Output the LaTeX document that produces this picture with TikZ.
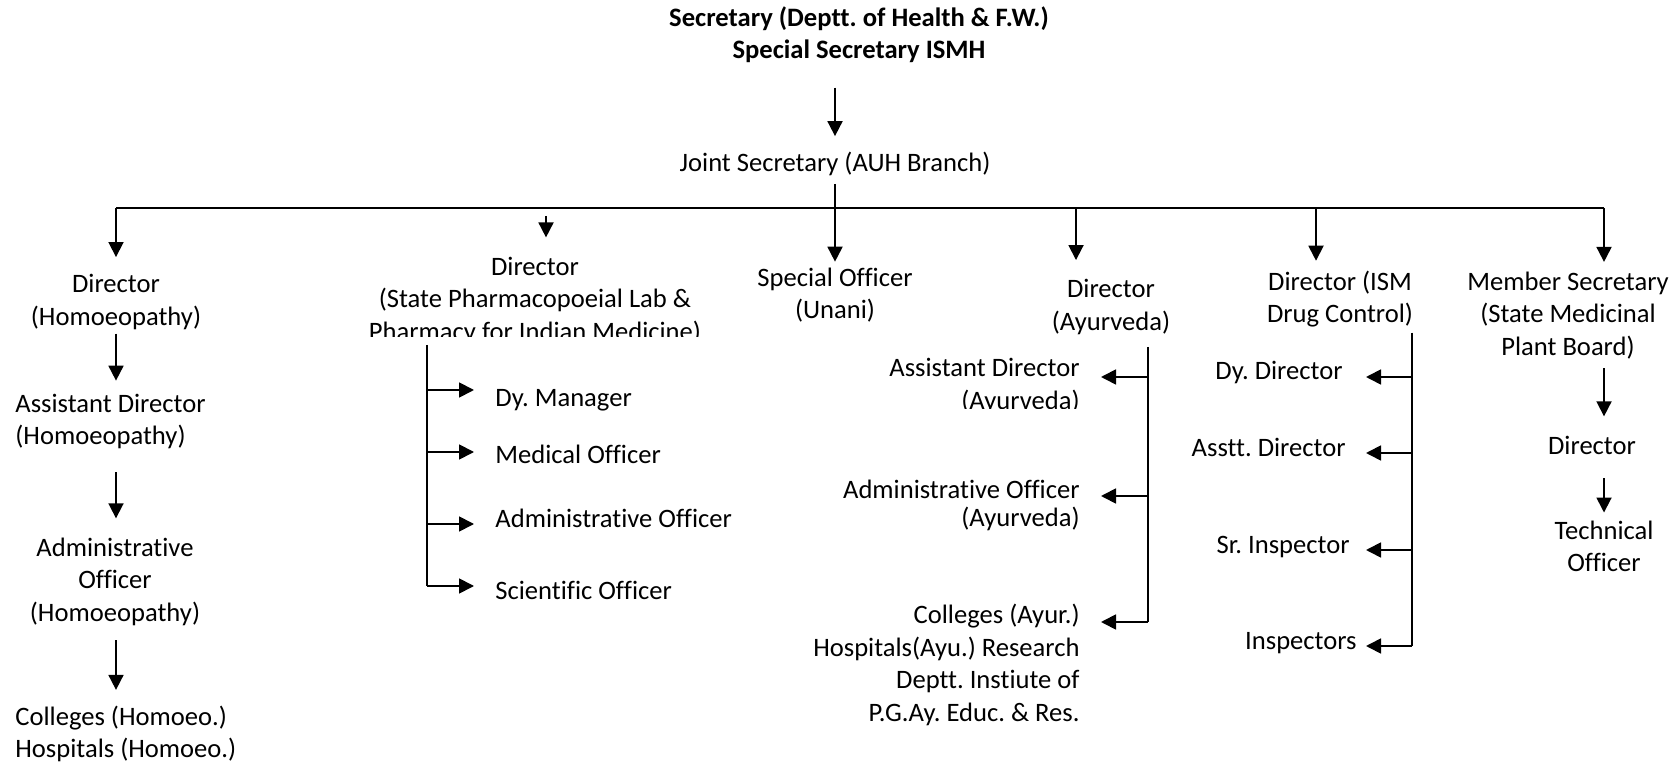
\documentclass[tikz,border=0pt]{standalone}
\usepackage{fontspec}
\setmainfont{Carlito}[Ligatures=NoCommon]
\usepackage{tikz}
\usetikzlibrary{arrows.meta}
\frenchspacing

\begin{document}
\begin{tikzpicture}[x=0.5pt,y=0.5pt,yscale=-1,xscale=1,
  every node/.style={font=\fontsize{13.3}{16.25}\selectfont,inner sep=0pt},
  ln/.style={line width=0.9pt},
  arr/.style={line width=0.9pt,-{Triangle[length=7.5pt,width=7.5pt]}}]
\useasboundingbox (0,0) rectangle (1679,763);

% Text Node
\node (sec) at (859,34.5) [align=center,font=\fontsize{13.3}{16.25}\selectfont\bfseries] {Secretary (Deptt. of Health \& F.W.)\\Special Secretary ISMH};
% Text Node
\node (joint) at (835,164) {Joint Secretary (AUH Branch)};

% Text Node
\node (dirhom) at (116,302) [align=center] {Director\\(Homoeopathy)};
% Text Node
\node (asstdirhom) at (15,421.6) [anchor=west,align=left] {Assistant Director\\(Homoeopathy)};
% Text Node
\node (admhom) at (115,581.6) [align=center] {Administrative\\Officer\\(Homoeopathy)};
% Text Node
\node (colhom) at (15,734) [anchor=west,align=left] {Colleges (Homoeo.)\\Hospitals (Homoeo.)};

% Text Node
\begin{scope}
\clip (350,240) rectangle (720,337);
\node (dirpharm) at (535,300.6) [align=center] {Director\\(State Pharmacopoeial Lab \&\\Pharmacy for Indian Medicine)};
\end{scope}
% Text Node
\node (dyman) at (495,400) [anchor=west] {Dy. Manager};
% Text Node
\node (medoff) at (495,454) [anchor=west] {Medical Officer};
% Text Node
\node (admoff) at (495,518) [anchor=west] {Administrative Officer};
% Text Node
\node (scioff) at (495,590) [anchor=west] {Scientific Officer};

% Text Node
\node (spoff) at (835,295) [align=center] {Special Officer\\(Unani)};

% Text Node
\node (dirayu) at (1111,307) [align=center] {Director\\(Ayurveda)};
% Text Node
\begin{scope}
\clip (880,340) rectangle (1090,409);
\node (asdayu) at (1080,386) [anchor=east,align=right] {Assistant Director\\(Ayurveda)};
\end{scope}
% Text Node
\node (admayu) at (1080,505) [anchor=east,align=right,font=\fontsize{13.3}{14}\selectfont] {Administrative Officer\\(Ayurveda)};
% Text Node
\node (colayu) at (1080,665) [anchor=east,align=right] {Colleges (Ayur.)\\Hospitals(Ayu.) Research\\Deptt. Instiute of\\P.G.Ay. Educ. \& Res.};

% Text Node
\node (dirism) at (1340,299) [align=center] {Director (ISM\\Drug Control)};
% Text Node
\node (ddir) at (1343,372) [anchor=east] {Dy. Director};
% Text Node
\node (asdir) at (1346,447) [anchor=east] {Asstt. Director};
% Text Node
\node (srins) at (1350,547) [anchor=east] {Sr. Inspector};
% Text Node
\node (insp) at (1357,643) [anchor=east] {Inspectors};

% Text Node
\node (ms) at (1568,315.5) [align=center] {Member Secretary\\(State Medicinal\\Plant Board)};
% Text Node
\node (msdir) at (1592,445) {Director};
% Text Node
\node (tech) at (1604,546.5) [align=center] {Technical\\Officer};

%Junctions
\coordinate (busL) at (116,208);
\coordinate (busR) at (1604,208);
\coordinate (busJ) at (835,208);
\coordinate (busAy) at (1076,208);
\coordinate (busIsm) at (1316,208);
\coordinate (pharmdrop) at (546,216);
\coordinate (p1) at (427,390);
\coordinate (p2) at (427,452);
\coordinate (p3) at (427,524);
\coordinate (p4) at (427,586);
\coordinate (a1) at (1148,377);
\coordinate (a2) at (1148,496);
\coordinate (a3) at (1148,622);
\coordinate (i1) at (1412,377);
\coordinate (i2) at (1412,453);
\coordinate (i3) at (1412,550);
\coordinate (i4) at (1412,646);
\coordinate (ismtip) at (1366,377);

%Straight Lines
\draw[ln] (busL) -- (busR);
\draw[arr,shorten <=12.3pt,shorten >=7.8pt] (joint |- sec.south) -- (joint.north);
\draw[ln,shorten <=3.8pt] (joint.south) -- (busJ);
\draw[arr,shorten >=2.8pt] (busJ) -- (spoff.north);

%Homoeopathy
\draw[arr,shorten >=8.5pt] (busL) -- (busL |- dirhom.north);
\draw[arr,shorten <=1.8pt,shorten >=6.5pt] (busL |- dirhom.south) -- (busL |- asstdirhom.north);
\draw[arr,shorten <=11.3pt,shorten >=9.5pt] (busL |- asstdirhom.south) -- (busL |- admhom.north);
\draw[arr,shorten <=7.3pt,shorten >=7.8pt] (busL |- admhom.south) -- (busL |- colhom.north);

%Pharmacy
\draw[arr,shorten >=9.5pt] (pharmdrop) -- (pharmdrop |- dirpharm.north);
\draw[ln] (p1 |- dirpharm.south) -- (p4);
\foreach \j/\n in {p1/dyman,p2/medoff,p3/admoff,p4/scioff}
  \draw[arr,shorten >=10.5pt] (\j) -- (\j -| \n.west);

%Ayurveda
\draw[arr,shorten >=9.5pt] (busAy) -- (busAy |- dirayu.north);
\draw[ln,shorten <=6pt] (a1 |- dirayu.south) -- (a3);
\foreach \j/\n in {a1/asdayu,a2/admayu,a3/colayu}
  \draw[arr,shorten >=10.5pt] (\j) -- (\j -| \n.east);

%ISM Drug Control
\draw[arr,shorten >=4.8pt] (busIsm) -- (busIsm |- dirism.north);
\draw[ln,shorten <=2.5pt] (i1 |- dirism.south) -- (i4);
\foreach \j in {i1,i2,i3,i4}
  \draw[arr] (\j) -- (\j -| ismtip);

%Medicinal Plant Board
\draw[arr,shorten >=4.8pt] (busR) -- (busR |- ms.north);
\draw[arr,shorten <=4.3pt,shorten >=9.5pt] (busR |- ms.south) -- (busR |- msdir.north);
\draw[arr,shorten <=11.7pt,shorten >=4pt] (busR |- msdir.south) -- (busR |- tech.north);

\end{tikzpicture}
\end{document}
